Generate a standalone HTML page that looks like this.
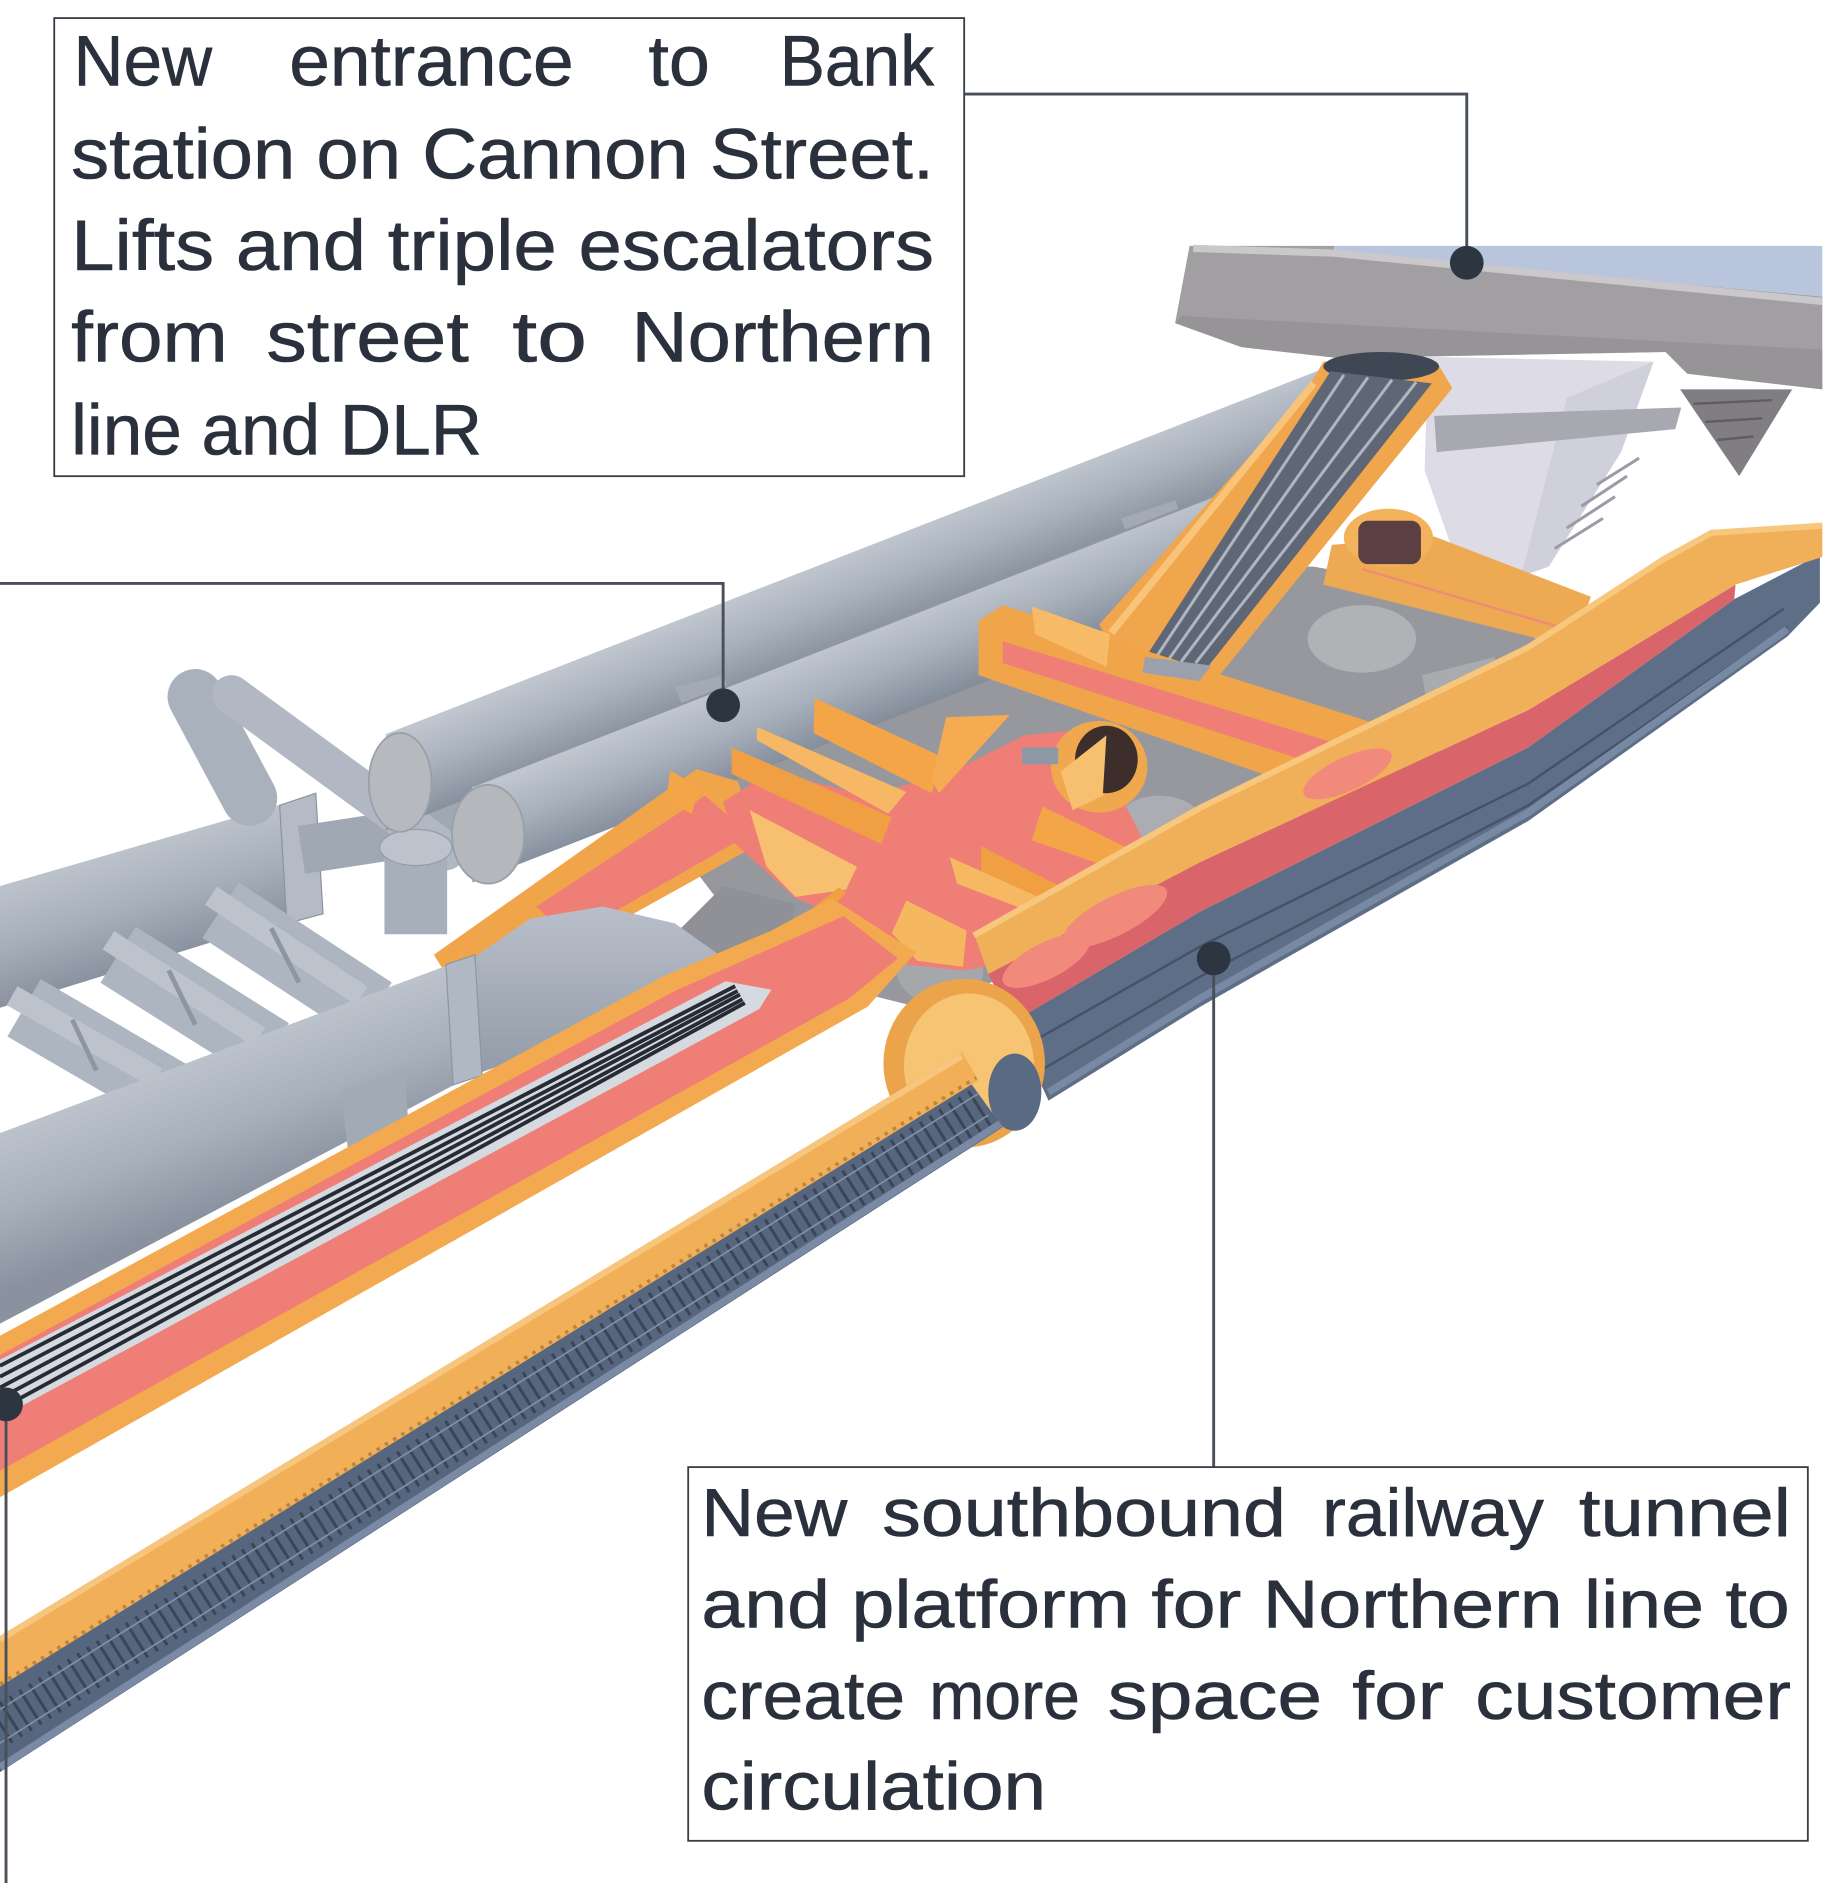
<!DOCTYPE html>
<html><head><meta charset="utf-8">
<style>
html,body{margin:0;padding:0;background:#fff;}
svg{display:block;}
text{font-family:"Liberation Sans",sans-serif;fill:#2a313c;stroke:#2a313c;stroke-width:0.5;}
</style></head><body>
<svg width="1844" height="1883" viewBox="0 0 1530 1562" preserveAspectRatio="none" xmlns="http://www.w3.org/2000/svg">
<defs>
<linearGradient id="gBack" gradientUnits="userSpaceOnUse" x1="691" y1="464" x2="719" y2="534">
<stop offset="0" stop-color="#bfc6d0"/><stop offset="0.45" stop-color="#a9b1bc"/><stop offset="1" stop-color="#848d9a"/></linearGradient>
<linearGradient id="gFront" gradientUnits="userSpaceOnUse" x1="721" y1="523" x2="749" y2="592">
<stop offset="0" stop-color="#bfc6d0"/><stop offset="0.45" stop-color="#a9b1bc"/><stop offset="1" stop-color="#848d9a"/></linearGradient>
<linearGradient id="gUL" gradientUnits="userSpaceOnUse" x1="113" y1="701" x2="141" y2="793">
<stop offset="0" stop-color="#bcc3cd"/><stop offset="0.5" stop-color="#a7afba"/><stop offset="1" stop-color="#8a92a0"/></linearGradient>
<linearGradient id="gLow" gradientUnits="userSpaceOnUse" x1="170" y1="872" x2="215" y2="992">
<stop offset="0" stop-color="#bdc4ce"/><stop offset="0.5" stop-color="#a8b0bb"/><stop offset="1" stop-color="#8a92a0"/></linearGradient>
<linearGradient id="gFun" x1="0" y1="0" x2="0" y2="1">
<stop offset="0" stop-color="#b8bfca"/><stop offset="1" stop-color="#939ba8"/></linearGradient>
</defs>
<rect x="0" y="0" width="1530" height="1562" fill="#fff"/>

<!-- dark fill behind hub -->
<polygon points="560,700 620,610 800,560 900,505 1000,470 1090,470 1200,490 1275,530 1180,640 1000,705 900,790 760,835 640,805" fill="#96989e"/>
<polygon points="540,795 600,735 660,750 650,800 585,815" fill="#8f9196"/>
<ellipse cx="1130" cy="530" rx="45" ry="28" fill="#b0b2b6"/>
<ellipse cx="962" cy="690" rx="40" ry="30" fill="#abadb2"/>
<ellipse cx="780" cy="805" rx="36" ry="28" fill="#a5a7ab"/>
<polygon points="1180,560 1240,545 1250,600 1190,620" fill="#a9abaf"/>

<!-- left cluster -->
<polygon points="0,735 258,660 258,756 0,836" fill="url(#gUL)"/>
<polygon points="232,668 262,658 268,758 238,766" fill="#b4bbc6" stroke="#8b93a0" stroke-width="1"/>
<line x1="250" y1="705" x2="400" y2="682" stroke="#a0a8b4" stroke-width="40"/>
<line x1="20" y1="836" x2="140" y2="906" stroke="#adb5c0" stroke-width="55"/>
<line x1="10" y1="826" x2="130" y2="894" stroke="#bcc3cd" stroke-width="18"/>
<line x1="98" y1="792" x2="225" y2="872" stroke="#adb5c0" stroke-width="55"/>
<line x1="90" y1="780" x2="215" y2="860" stroke="#bcc3cd" stroke-width="18"/>
<line x1="183" y1="755" x2="310" y2="838" stroke="#adb5c0" stroke-width="55"/>
<line x1="175" y1="743" x2="300" y2="826" stroke="#bcc3cd" stroke-width="18"/>
<line x1="60" y1="846" x2="80" y2="888" stroke="#8e96a3" stroke-width="4"/>
<line x1="140" y1="805" x2="162" y2="850" stroke="#8e96a3" stroke-width="4"/>
<line x1="225" y1="770" x2="248" y2="815" stroke="#8e96a3" stroke-width="4"/>
<line x1="162" y1="578" x2="207" y2="662" stroke="#a9b1bc" stroke-width="46" stroke-linecap="round"/>
<line x1="192" y1="576" x2="370" y2="706" stroke="#b1b8c3" stroke-width="32" stroke-linecap="round"/>
<line x1="345" y1="705" x2="345" y2="775" stroke="#a7afba" stroke-width="52"/>
<ellipse cx="345" cy="703" rx="30" ry="15" fill="#bcc3cd" stroke="#949caa" stroke-width="1"/>

<!-- upper tubes -->
<polygon points="320,609 1095,307 1095,387 320,689" fill="url(#gBack)"/>
<ellipse cx="332" cy="649" rx="26" ry="41" fill="#b6b9be" stroke="#9aa0a8" stroke-width="1.5"/>
<polygon points="560,570 600,560 610,585 570,595" fill="#a3aab5"/>
<polygon points="930,430 975,415 985,440 940,455" fill="#a3aab5"/>
<polygon points="392,652 1085,381 1085,461 392,732" fill="url(#gFront)"/>
<line x1="392" y1="652" x2="1085" y2="381" stroke="#8f97a4" stroke-width="2"/>
<ellipse cx="405" cy="692" rx="30" ry="41" fill="#b4b7bc" stroke="#98a0a8" stroke-width="1.5"/>

<!-- building -->
<polygon points="987,204 1107,204 1107,209 1512,246 1512,323 1400,310 1382,292 1110,297 1030,288 975,268" fill="#a19fa1"/>
<polygon points="980,262 1512,290 1512,323 1400,310 1382,292 1110,297 1030,288 975,268" fill="#8f8d90" opacity="0.6"/>
<polygon points="1107,204 1512,204 1512,246 1107,209" fill="#b8c5dc"/>
<polyline points="990,206 1107,210 1512,250" fill="none" stroke="#cac8ca" stroke-width="6"/>
<polygon points="1185,296 1372,300 1345,375 1285,470 1250,482 1210,470 1182,390" fill="#dddce6"/>
<polygon points="1300,330 1372,300 1345,375 1285,470 1262,478" fill="#cfd0db"/>
<polygon points="1190,345 1395,338 1390,356 1192,375" fill="#a8a8b0"/>
<g stroke="#9a9ba6" stroke-width="2.5">
<line x1="1290" y1="455" x2="1330" y2="430"/><line x1="1300" y1="438" x2="1340" y2="412"/><line x1="1312" y1="420" x2="1350" y2="395"/><line x1="1325" y1="402" x2="1360" y2="380"/>
</g>
<polygon points="1394,323 1487,323 1443,395" fill="#807e82"/>
<g stroke="#5f5d62" stroke-width="2"><line x1="1405" y1="335" x2="1470" y2="332"/><line x1="1415" y1="350" x2="1462" y2="347"/><line x1="1425" y1="365" x2="1455" y2="362"/></g>

<!-- escalator -->
<polygon points="1082,328 1098,300 1192,300 1205,322 1012,560 965,558 918,530 912,518" fill="#f0a64c"/>
<ellipse cx="1146" cy="304" rx="48" ry="12" fill="#3f4654"/>
<polygon points="1104,308 1188,318 1003,552 950,546" fill="#5f6776"/>
<g stroke="#aeb6c2" stroke-width="2.5">
<line x1="1115" y1="311" x2="958" y2="547"/><line x1="1135" y1="313" x2="969" y2="548"/><line x1="1155" y1="315" x2="980" y2="549"/><line x1="1175" y1="317" x2="992" y2="550"/>
</g>
<line x1="1090" y1="318" x2="922" y2="525" stroke="#f7c47a" stroke-width="6"/>

<!-- lift corridor -->
<polygon points="1105,452 1190,445 1320,495 1305,537 1098,485" fill="#eea953"/>
<line x1="1130" y1="472" x2="1300" y2="522" stroke="#f08a7a" stroke-width="2"/>
<ellipse cx="1152" cy="446" rx="37" ry="24" fill="#f2b35c"/>
<rect x="1127" y="432" width="52" height="36" rx="8" fill="#5b3f43"/>

<!-- cross corridor -->
<polygon points="812,515 832,502 1172,610 1162,640 1128,670 812,560" fill="#f0a54b"/>
<polygon points="832,532 1152,630 1142,650 832,550" fill="#ef7f76"/>
<polygon points="856,503 921,526 918,553 859,526" fill="#f7bb68"/>
<polygon points="950,545 1005,552 995,565 948,558" fill="#9aa1ad"/>

<!-- upper-left corridor -->
<polygon points="360,792 578,638 612,648 630,700 450,800 370,808" fill="#f0a54b"/>
<polygon points="445,752 585,660 622,692 472,778" fill="#ef7f76"/>

<!-- hub -->
<polygon points="600,665 640,640 720,660 790,640 850,610 900,605 940,680 960,720 930,760 880,790 800,805 750,800 720,770 660,745 610,700" fill="#ef7f76"/>
<polygon points="620,790 700,745 760,790 705,835" fill="#ef7f76"/>
<polygon points="676,579 782,628 773,658 675,608" fill="#f3a548"/>
<polygon points="628,603 752,657 737,675 628,614" fill="#f7b865"/>
<polygon points="607,620 740,678 731,700 607,642" fill="#f0a043"/>
<polygon points="556,639 580,653 574,675 553,664" fill="#f3a548"/>
<polygon points="622,672 711,719 702,738 660,744 636,719" fill="#f6c070"/>
<polygon points="785,595 838,593 779,658 773,647" fill="#f4ab52"/>
<ellipse cx="912" cy="636" rx="40" ry="38" fill="#f0a84f"/>
<ellipse cx="918" cy="630" rx="26" ry="28" fill="#3d2e2c"/>
<polygon points="880,640 918,610 915,660 890,672" fill="#f7c070"/>
<rect x="848" y="620" width="30" height="14" fill="#8f98a6"/>
<polygon points="865,669 945,708 942,727 856,697" fill="#f3a548"/>
<polygon points="814,702 891,741 874,752 814,725" fill="#f0a043"/>
<polygon points="788,711 868,747 859,758 794,733" fill="#f6b862"/>
<polygon points="752,747 802,772 799,802 761,797 740,774" fill="#f5b760"/>
<polygon points="645,777 696,736 702,741 651,791" fill="#f0a043"/>

<!-- lower big tube + funnel -->
<polygon points="392,795 440,762 500,752 560,766 605,798 585,828 520,852 450,872 392,892" fill="url(#gFun)"/>
<polygon points="0,940 392,793 392,892 0,1098" fill="url(#gLow)"/>
<polygon points="370,800 394,792 400,892 376,900" fill="#b0b8c3" stroke="#8d95a1" stroke-width="1"/>
<polygon points="283,905 336,885 340,955 290,965" fill="#a2aab5"/>

<!-- lower-left corridor -->
<polygon points="0,1108 550,810 640,772 690,745 760,790 720,835 0,1242" fill="#f2a94f"/>
<polygon points="0,1124 560,822 700,760 745,795 705,828 0,1220" fill="#ef7f76"/>
<polygon points="0,1128 602,814 640,821 630,837 0,1176" fill="#d5d9e0"/>
<g stroke="#262b35" stroke-width="3.2">
<line x1="0" y1="1133" x2="610" y2="818"/><line x1="0" y1="1142" x2="612" y2="822"/><line x1="0" y1="1151" x2="614" y2="825"/><line x1="0" y1="1160" x2="616" y2="829"/><line x1="0" y1="1169" x2="618" y2="832"/>
</g>

<!-- platform tunnel right -->
<polygon points="840,848 996,756 1268,620 1439,497 1510,460 1510,500 1483,528 1268,681 996,835 870,913" fill="#5d6e86"/>
<polyline points="850,868 996,785 1268,650 1480,505" fill="none" stroke="#44516a" stroke-width="2"/>
<polyline points="860,890 996,810 1268,668 1483,520" fill="none" stroke="#46536b" stroke-width="2"/>
<polyline points="870,906 996,828 1268,674 1483,522" fill="none" stroke="#7889a3" stroke-width="6"/>
<polygon points="820,808 996,715 1268,589 1440,485 1439,497 1268,620 996,756 840,848" fill="#d9646a"/>
<polygon points="808,774 996,668 1268,535 1380,462 1420,440 1512,434 1512,462 1440,485 1268,589 996,715 820,808" fill="#f0b05a"/>
<polyline points="808,776 996,670 1268,537 1380,464 1420,442 1512,436" fill="none" stroke="#f7c77e" stroke-width="5"/>
<ellipse cx="925" cy="760" rx="48" ry="16" transform="rotate(-27 925 760)" fill="#f28a7c"/>
<ellipse cx="868" cy="797" rx="40" ry="15" transform="rotate(-27 868 797)" fill="#f28a7c"/>
<ellipse cx="1118" cy="642" rx="40" ry="14" transform="rotate(-25 1118 642)" fill="#f28a7c"/>

<!-- ring -->
<ellipse cx="800" cy="882" rx="67" ry="70" fill="#eca44b"/>
<ellipse cx="804" cy="884" rx="54" ry="60" fill="#f6c472"/>
<ellipse cx="842" cy="906" rx="22" ry="32" fill="#5a6a82"/>

<!-- left track + rod -->
<polygon points="0,1397 805,898 832,935 0,1470" fill="#56667e"/>
<line x1="0" y1="1432" x2="815" y2="918" stroke="#3b4556" stroke-width="34" stroke-dasharray="2.5 7"/>
<line x1="0" y1="1418" x2="812" y2="907" stroke="#7f8ea6" stroke-width="1.5"/>
<line x1="0" y1="1446" x2="820" y2="925" stroke="#7f8ea6" stroke-width="1.5"/>
<line x1="0" y1="1466" x2="830" y2="932" stroke="#7a8aa4" stroke-width="6"/>
<polygon points="0,1357 798,873 812,896 0,1399" fill="#f1b058"/>
<line x1="0" y1="1360" x2="798" y2="876" stroke="#f7c57e" stroke-width="5"/>
<line x1="0" y1="1397" x2="810" y2="894" stroke="#9a6a30" stroke-width="3" stroke-dasharray="3 5" opacity="0.6"/>

<!-- connectors -->
<g fill="none" stroke="#4a5059" stroke-width="2.4">
<path d="M800 78 H1217 V218"/>
<path d="M0 484 H600 V585"/>
<path d="M1007 795 V1217"/>
<path d="M5 1165 V1562"/>
</g>
<g fill="#2d3540">
<circle cx="1217" cy="218" r="14"/>
<circle cx="600" cy="585" r="14"/>
<circle cx="1007" cy="795" r="14"/>
<circle cx="5" cy="1165" r="14"/>
</g>

<!-- box 1 -->
<rect x="45" y="15" width="755" height="380" fill="#fff" stroke="#3a3f47" stroke-width="1.5"/>
<g font-size="59">
<text x="61" y="71" textLength="115" lengthAdjust="spacingAndGlyphs">New</text>
<text x="240" y="71" textLength="236" lengthAdjust="spacingAndGlyphs">entrance</text>
<text x="538" y="71" textLength="51" lengthAdjust="spacingAndGlyphs">to</text>
<text x="647" y="71" textLength="128" lengthAdjust="spacingAndGlyphs">Bank</text>
<text x="59" y="148" textLength="716" lengthAdjust="spacingAndGlyphs">station on Cannon Street.</text>
<text x="59" y="224" textLength="716" lengthAdjust="spacingAndGlyphs">Lifts and triple escalators</text>
<text x="59" y="300" textLength="130" lengthAdjust="spacingAndGlyphs">from</text>
<text x="221" y="300" textLength="168" lengthAdjust="spacingAndGlyphs">street</text>
<text x="425" y="300" textLength="62" lengthAdjust="spacingAndGlyphs">to</text>
<text x="524" y="300" textLength="251" lengthAdjust="spacingAndGlyphs">Northern</text>
<text x="59" y="377" textLength="341" lengthAdjust="spacingAndGlyphs">line and DLR</text>
</g>

<!-- box 2 -->
<rect x="571" y="1217" width="929" height="310" fill="#fff" stroke="#3a3f47" stroke-width="1.5"/>
<g font-size="56">
<text x="582" y="1274" textLength="121" lengthAdjust="spacingAndGlyphs">New</text>
<text x="732" y="1274" textLength="335" lengthAdjust="spacingAndGlyphs">southbound</text>
<text x="1097" y="1274" textLength="184" lengthAdjust="spacingAndGlyphs">railway</text>
<text x="1310" y="1274" textLength="176" lengthAdjust="spacingAndGlyphs">tunnel</text>
<text x="582" y="1350" textLength="903" lengthAdjust="spacingAndGlyphs">and platform for Northern line to</text>
<text x="582" y="1426" textLength="169" lengthAdjust="spacingAndGlyphs">create</text>
<text x="771" y="1426" textLength="125" lengthAdjust="spacingAndGlyphs">more</text>
<text x="919" y="1426" textLength="178" lengthAdjust="spacingAndGlyphs">space</text>
<text x="1122" y="1426" textLength="76" lengthAdjust="spacingAndGlyphs">for</text>
<text x="1224" y="1426" textLength="262" lengthAdjust="spacingAndGlyphs">customer</text>
<text x="582" y="1501" textLength="286" lengthAdjust="spacingAndGlyphs">circulation</text>
</g>
</svg>
</body></html>
